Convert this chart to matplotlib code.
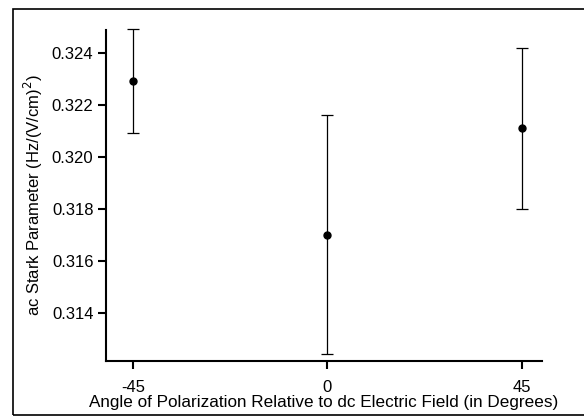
import matplotlib.pyplot as plt
from matplotlib.patches import Rectangle

plt.rcParams['font.family'] = ['Liberation Sans', 'DejaVu Sans']

angle = [-45, 0, 45]
stark = [0.3229, 0.3170, 0.3211]
stark_err = [0.0020, 0.0046, 0.0031]
yticks = [0.314, 0.316, 0.318, 0.320, 0.322, 0.324]

fig = plt.figure(figsize=(5.84, 4.18), dpi=100)
ax = fig.add_axes([106 / 584, 1 - 361 / 418, 436 / 584, 331 / 418])

eb = ax.errorbar(angle, stark, yerr=stark_err, fmt='o', color='black',
                 markersize=5, elinewidth=0.9, capsize=4, capthick=0.9)
for artist in eb.lines[1] + eb.lines[2]:
    artist.set_clip_on(False)

ax.set_xlim(-51.2, 49.6)
ax.set_ylim(0.31215, 0.32488)
ax.set_xticks(angle)
ax.set_xticklabels(['-45', '0', '45'])
ax.set_yticks(yticks)
ax.set_yticklabels([f'{v:.3f}' for v in yticks])

for s in ['top', 'right']:
    ax.spines[s].set_visible(False)
for s in ['left', 'bottom']:
    ax.spines[s].set_linewidth(1.5)
ax.tick_params(direction='out', length=6, width=1.5, labelsize=12)
ax.tick_params(axis='x', pad=8)
ax.tick_params(axis='y', pad=3)

ax.set_xlabel('Angle of Polarization Relative to dc Electric Field (in Degrees)',
              fontsize=12.3, labelpad=0)
ax.set_ylabel('ac Stark Parameter (Hz/(V/cm)$^2$)', fontsize=12, labelpad=5)

# outer frame
fig.patches.append(Rectangle((13 / 584, 3 / 418), 1.0, 406 / 418,
                             transform=fig.transFigure, fill=False,
                             edgecolor='black', linewidth=1.2))

fig.savefig('out.png', dpi=100)
